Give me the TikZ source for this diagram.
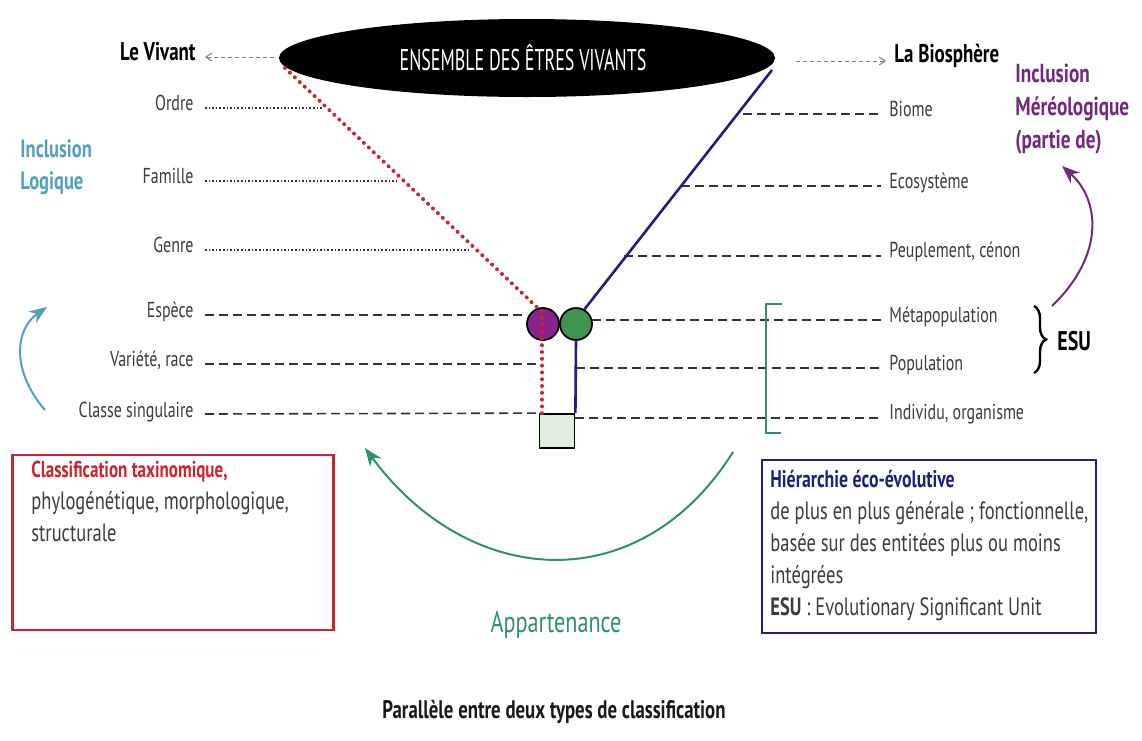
\documentclass[tikz,border=0pt]{standalone}
\usepackage{fontspec}
\setmainfont{PT Sans}[FakeStretch=0.74]
\newfontfamily\condfont{PT Sans}[FakeStretch=0.6]
\usetikzlibrary{arrows.meta,shapes.geometric,decorations.pathreplacing}
\definecolor{myred}{RGB}{205,35,45}
\definecolor{mypurple}{RGB}{115,40,125}
\definecolor{circpurple}{RGB}{135,35,145}
\definecolor{circgreen}{RGB}{60,150,80}
\definecolor{myblue}{RGB}{30,30,130}
\definecolor{myteal}{RGB}{80,160,190}
\definecolor{mygreen}{RGB}{45,145,105}
\definecolor{sqfill}{RGB}{225,240,222}
\definecolor{txt}{RGB}{60,60,60}
\tikzset{
  lab/.style={font=\fontsize{10.8}{12}\selectfont, text=txt, inner sep=0pt},
  blab/.style={font=\fontsize{12.8}{14}\selectfont\bfseries, text=black, inner sep=0pt},
  dotln/.style={line width=0.8pt, densely dotted, black!80},
  dashln/.style={line width=0.8pt, dash pattern=on 4.5pt off 2.5pt, black!80},
  reddots/.style={line width=2pt, myred, dash pattern=on 0pt off 3.4pt, line cap=round},
  blueln/.style={line width=1.3pt, myblue},
  grayarrow/.style={line width=0.5pt, gray, dash pattern=on 2pt off 1.5pt, -{Straight Barb[length=3pt,width=4pt]}},
  boxtxt/.style={font=\fontsize{12.5}{16}\selectfont, text=txt, inner sep=0pt, align=left},
}
\begin{document}
\begin{tikzpicture}[x=0.5pt,y=-0.5pt]
\useasboundingbox (0,0) rectangle (1142,740);

% ellipse
\node[ellipse, fill=black, minimum width=248pt, minimum height=39pt, inner sep=0pt] (ens) at (527,58) {};
\node[font=\condfont\fontsize{15}{17}\selectfont, text=white, inner sep=0pt] (enstxt) at (523,58) {ENSEMBLE DES ÊTRES VIVANTS};

% top labels
\node[blab, anchor=east] (vivant) at (196,52) {Le Vivant};
\node[blab, anchor=west] (bio) at (894,56) {La Biosphère};
\coordinate (vivA) at (274,57);
\coordinate (vivB) at (205,57);
\coordinate (bioA) at (796,61);
\coordinate (bioB) at (886,61);
\draw[grayarrow] (vivA) -- (vivB);
\draw[grayarrow] (bioA) -- (bioB);

% left labels
\node[lab, anchor=base east] (ordre) at (194,110) {Ordre};
\node[lab, anchor=base east] (famille) at (194,183) {Famille};
\node[lab, anchor=base east] (genre) at (194,252) {Genre};
\node[lab, anchor=base east] (espece) at (194,317) {Espèce};
\node[lab, anchor=base east] (variete) at (194,366) {Variété, race};
\node[lab, anchor=base east] (classe) at (194,417) {Classe singulaire};

% right labels
\node[lab, anchor=base west] (biome) at (889,116) {Biome};
\node[lab, anchor=base west] (ecosys) at (889,188) {Ecosystème};
\node[lab, anchor=base west] (peupl) at (889,257) {Peuplement, cénon};
\node[lab, anchor=base west] (metapop) at (889,322) {Métapopulation};
\node[lab, anchor=base west] (pop) at (889,370) {Population};
\node[lab, anchor=base west] (indiv) at (889,419) {Individu, organisme};

% circles and square
\node[circle, fill=circpurple, draw=black, line width=0.9pt, minimum size=16pt, inner sep=0pt] (pc) at (543,324) {};
\node[circle, fill=circgreen, draw=black, line width=0.9pt, minimum size=16pt, inner sep=0pt] (gc) at (576,324) {};
\node[rectangle, fill=sqfill, draw=black, line width=0.9pt, minimum width=17.5pt, minimum height=17pt, inner sep=0pt] (sq) at (557,431) {};

% left horizontal lines
\coordinate (o1) at (205,108); \coordinate (o2) at (322,108);
\coordinate (f1) at (205,181); \coordinate (f2) at (398,181);
\coordinate (g1) at (205,250); \coordinate (g2) at (468,250);
\draw[dotln] (o1) -- (o2);
\draw[dotln] (f1) -- (f2);
\draw[dotln] (g1) -- (g2);
\coordinate (e1) at (205,315); \coordinate (e2) at (527,315);
\coordinate (v1) at (205,364); \coordinate (v2) at (541,364);
\coordinate (c1) at (205,414);
\draw[dashln] (e1) -- (e2);
\draw[dashln] (v1) -- (v2);
\draw[dashln] (c1) -- (sq.north west);

% right horizontal lines
\coordinate (bi1) at (743,114); \coordinate (bi2) at (881,114);
\coordinate (ec1) at (681,186); \coordinate (ec2) at (881,186);
\coordinate (pe1) at (624,256); \coordinate (pe2) at (881,256);
\coordinate (me1) at (592,320); \coordinate (me2) at (881,320);
\coordinate (po1) at (576,368); \coordinate (po2) at (881,368);
\coordinate (in1) at (575,418); \coordinate (in2) at (881,418);
\draw[dashln] (bi1) -- (bi2);
\draw[dashln] (ec1) -- (ec2);
\draw[dashln] (pe1) -- (pe2);
\draw[dashln] (me1) -- (me2);
\draw[dashln] (po1) -- (po2);
\draw[dashln] (in1) -- (in2);

% red dotted line
\coordinate (redTop) at (285,68);
\coordinate (redBend) at (542,312);
\coordinate (redBot) at (542,414);
\draw[reddots] (redTop) -- (redBend) -- (redBot);

% blue line
\coordinate (blueTop) at (772,70);
\draw[blueln] (blueTop) -- (gc.60);
\draw[blueln] (gc.south) -- (sq.north east);

% green bracket
\coordinate (br1) at (782,304); \coordinate (br2) at (766,304);
\coordinate (br3) at (766,433); \coordinate (br4) at (781,433);
\draw[line width=1pt, mygreen] (br1) -- (br2) -- (br3) -- (br4);

% brace and ESU
\coordinate (bA) at (1034,306); \coordinate (bB) at (1034,373);
\draw[line width=1.2pt, decorate, decoration={brace, amplitude=6pt}] (bA) -- (bB);
\node[font=\fontsize{13.5}{15}\selectfont\bfseries, inner sep=0pt, anchor=west] (esu) at (1057,341) {ESU};

% purple text and arrow
\node[font=\fontsize{13}{16.5}\selectfont\bfseries, text=mypurple, anchor=north west, align=left, inner sep=0pt] (mereo) at (1015,64) {Inclusion\\Méréologique\\(partie de)};
\coordinate (pA) at (1052,306);
\coordinate (pB) at (1062,166);
\draw[line width=1pt, mypurple, -{Stealth[length=9pt,width=7pt]}] (pA) .. controls (1105,255) and (1100,200) .. (pB);

% teal text and arrow
\node[font=\fontsize{12.5}{16}\selectfont\bfseries, text=myteal, anchor=north west, align=left, inner sep=0pt] (logique) at (20,139) {Inclusion\\Logique};
\coordinate (tA) at (45,410); \coordinate (tB) at (47,307);
\draw[line width=1pt, myteal, -{Stealth[length=9pt,width=7pt]}] (tA) .. controls (12,372) and (14,330) .. (tB);

% red box
\node[draw=myred, line width=1.2pt, minimum width=160.5pt, minimum height=87.5pt, inner sep=0pt] (redbox) at (173,542.5) {};
\node[boxtxt, anchor=north west] (redtxt) at (31,461) {{\color{myred}\bfseries\fontsize{11.5}{16}\selectfont Classification taxinomique,}\\phylogénétique, morphologique,\\structurale};

% blue box
\node[draw=myblue, line width=1.2pt, minimum width=167pt, minimum height=86.5pt, inner sep=0pt] (bluebox) at (929,546.5) {};
\node[boxtxt, anchor=north west] (bluetxt) at (770,470) {{\color{myblue}\bfseries\fontsize{12}{16}\selectfont Hiérarchie éco-évolutive}\\de plus en plus générale ; fonctionnelle,\\basée sur des entitées plus ou moins\\intégrées\\{\bfseries ESU} : Evolutionary Significant Unit};

% green arrow
\coordinate (gA) at (733,452); \coordinate (gB) at (365,448);
\draw[line width=1pt, mygreen, -{Stealth[length=9pt,width=7pt]}] (gA) .. controls (640,600) and (470,590) .. (gB);
\node[font=\fontsize{15}{17}\selectfont, text=mygreen, inner sep=0pt] (appart) at (556,625) {Appartenance};

% caption
\node[font=\fontsize{12.7}{14}\selectfont\bfseries, text=black!90, inner sep=0pt] (caption) at (554,712) {Parallèle entre deux types de classification};
\end{tikzpicture}
\end{document}
